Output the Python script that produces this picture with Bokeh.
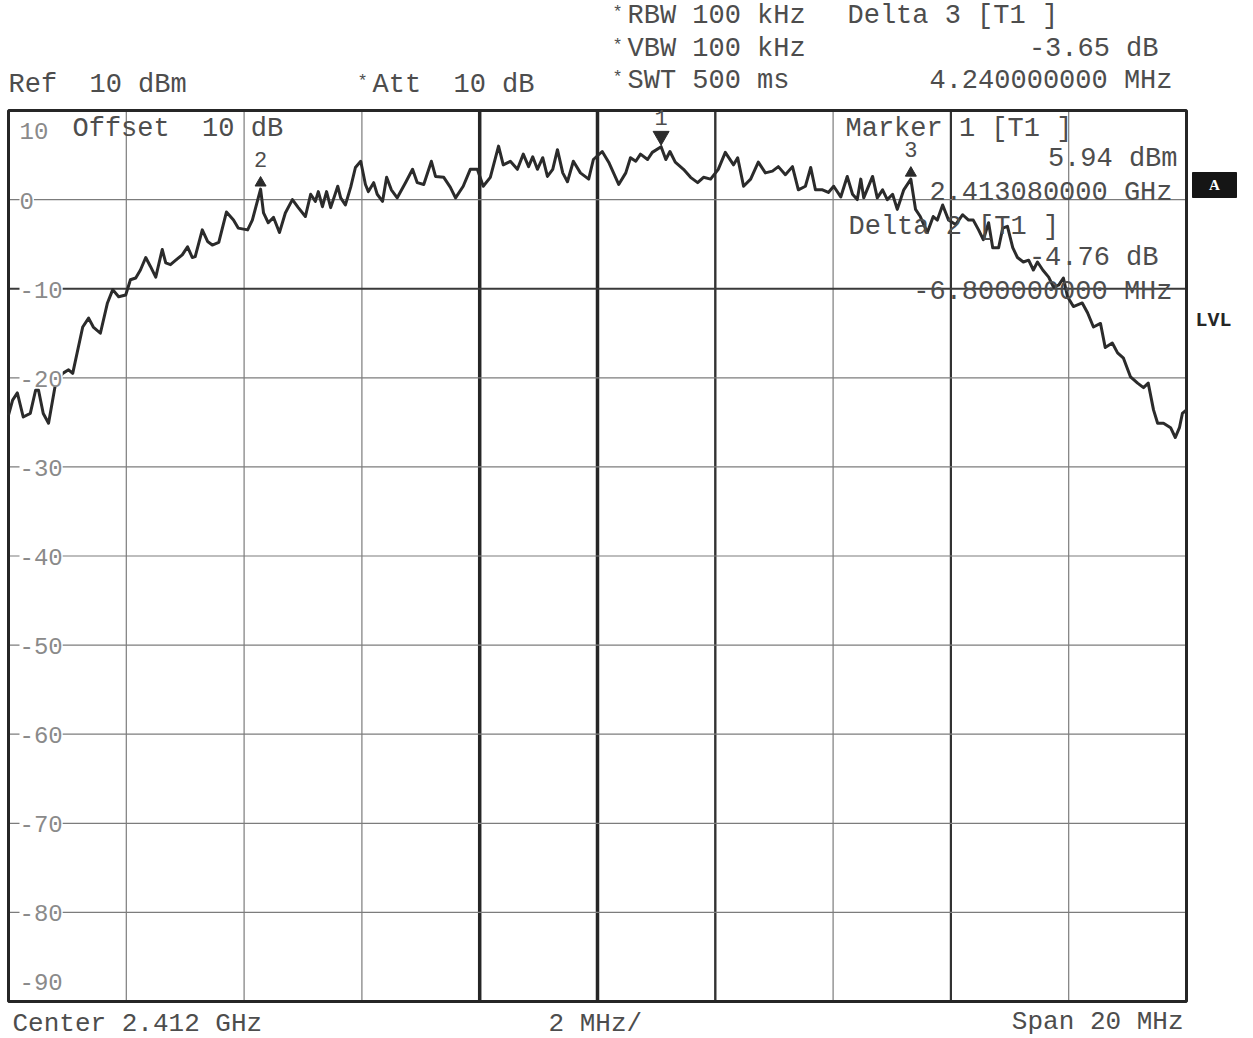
from bokeh.plotting import figure
from bokeh.models import Label, Range1d
from bokeh.embed import file_html
from bokeh.resources import INLINE

# ---------------- data ----------------
freq_mhz = [2402.00, 2402.07, 2402.15, 2402.25, 2402.37, 2402.46, 2402.51, 2402.59, 2402.68, 2402.80,
            2402.92, 2403.02, 2403.09, 2403.26, 2403.36, 2403.44, 2403.56, 2403.68, 2403.77, 2403.87,
            2403.99, 2404.07, 2404.16, 2404.24, 2404.33, 2404.41, 2404.50, 2404.61, 2404.67, 2404.75,
            2404.84, 2404.95, 2405.04, 2405.12, 2405.17, 2405.29, 2405.38, 2405.46, 2405.57, 2405.70,
            2405.82, 2405.90, 2406.06, 2406.14, 2406.28, 2406.33, 2406.41, 2406.50, 2406.60, 2406.70,
            2406.82, 2406.92, 2407.04, 2407.13, 2407.21, 2407.26, 2407.33, 2407.40, 2407.47, 2407.59,
            2407.64, 2407.72, 2407.81, 2407.89, 2407.98, 2408.06, 2408.11, 2408.20, 2408.26, 2408.35,
            2408.42, 2408.50, 2408.60, 2408.74, 2408.86, 2408.94, 2409.05, 2409.18, 2409.25, 2409.39,
            2409.50, 2409.59, 2409.72, 2409.84, 2409.96, 2410.06, 2410.18, 2410.32, 2410.40, 2410.52,
            2410.64, 2410.74, 2410.83, 2410.90, 2410.98, 2411.07, 2411.15, 2411.24, 2411.32, 2411.41,
            2411.49, 2411.59, 2411.71, 2411.85, 2411.93, 2412.08, 2412.19, 2412.36, 2412.48, 2412.56,
            2412.65, 2412.73, 2412.85, 2412.93, 2413.08, 2413.16, 2413.23, 2413.32, 2413.46, 2413.58,
            2413.70, 2413.80, 2413.92, 2414.05, 2414.17, 2414.22, 2414.31, 2414.38, 2414.48, 2414.60,
            2414.73, 2414.85, 2414.97, 2415.07, 2415.19, 2415.31, 2415.41, 2415.53, 2415.62, 2415.70,
            2415.82, 2415.92, 2416.01, 2416.13, 2416.24, 2416.33, 2416.41, 2416.47, 2416.52, 2416.67,
            2416.75, 2416.84, 2416.92, 2417.01, 2417.09, 2417.20, 2417.32, 2417.40, 2417.48, 2417.60,
            2417.70, 2417.77, 2417.86, 2417.96, 2418.08, 2418.20, 2418.30, 2418.38, 2418.47, 2418.55,
            2418.64, 2418.71, 2418.81, 2418.88, 2418.96, 2419.05, 2419.13, 2419.23, 2419.32, 2419.40,
            2419.47, 2419.56, 2419.66, 2419.74, 2419.83, 2419.91, 2419.98, 2420.08, 2420.23, 2420.32,
            2420.42, 2420.54, 2420.62, 2420.74, 2420.83, 2420.93, 2421.05, 2421.17, 2421.27, 2421.35,
            2421.44, 2421.51, 2421.61, 2421.73, 2421.81, 2421.88, 2421.93, 2422.00]
level_dbm = [-24.2, -22.5, -21.7, -24.4, -24.0, -21.4, -21.4, -24.0, -25.1, -20.6,
             -19.5, -19.1, -19.5, -14.3, -13.3, -14.3, -15.0, -11.6, -10.1, -10.9,
             -10.7, -9.0, -8.8, -7.9, -6.5, -7.5, -8.7, -5.6, -7.1, -7.3,
             -6.8, -6.2, -5.3, -6.5, -6.4, -3.4, -4.7, -5.1, -4.8, -1.4,
             -2.3, -3.2, -3.4, -2.3, 1.18, -1.5, -2.6, -2.0, -3.7, -1.5,
             0.0, -0.9, -1.9, 0.6, -0.2, 0.9, -0.8, 0.9, -0.9, 1.5,
             0.2, -0.6, 1.4, 3.6, 4.3, 1.7, 0.9, 1.9, 0.6, -0.2,
             2.5, 1.1, 0.2, 1.9, 3.4, 1.9, 1.7, 4.3, 2.6, 2.5,
             1.4, 0.2, 1.5, 3.4, 3.4, 1.5, 2.5, 6.0, 3.9, 4.3,
             3.4, 5.1, 3.7, 4.8, 3.4, 4.7, 2.6, 3.4, 5.6, 3.0,
             2.0, 4.3, 3.0, 2.3, 4.5, 5.4, 4.2, 1.7, 3.0, 4.7,
             4.3, 5.1, 4.5, 5.3, 5.94, 4.5, 5.4, 4.2, 3.4, 2.5,
             1.9, 2.5, 2.3, 3.4, 5.3, 4.8, 3.9, 4.7, 1.5, 2.3,
             4.2, 3.0, 3.2, 3.7, 2.8, 3.7, 1.1, 1.5, 3.6, 1.1,
             1.1, 0.8, 1.5, 0.3, 2.6, 0.6, 0.0, 2.3, 0.2, 2.6,
             0.2, 1.1, 0.0, 0.6, -1.1, 1.1, 2.29, -1.1, -1.9, -3.7,
             -1.9, -2.3, -0.6, -2.3, -2.8, -1.7, -2.3, -2.3, -3.4, -4.5,
             -2.6, -5.4, -5.4, -3.2, -3.0, -5.4, -6.5, -7.0, -6.8, -7.9,
             -7.0, -7.9, -8.7, -9.8, -9.6, -8.8, -10.9, -12.0, -11.6, -12.7,
             -14.3, -13.9, -16.6, -16.1, -17.2, -17.8, -19.9, -20.6, -21.1, -20.6,
             -23.6, -25.1, -25.1, -25.6, -26.7, -25.6, -24.0, -23.6]

grid_freq = [2402, 2404, 2406, 2408, 2410, 2412, 2414, 2416, 2418, 2420, 2422]
grid_db = [10, 0, -10, -20, -30, -40, -50, -60, -70, -80, -90]
ytick_labels = ["10", "0", "-10", "-20", "-30", "-40", "-50", "-60", "-70", "-80", "-90"]

marker_names = ["1", "2", "3"]
marker_freq = [2413.08, 2406.28, 2417.32]
marker_level = [5.94, 1.18, 2.29]

# ---------------- layout helpers (page px -> data) ----------------
F0, F1, D0, D1 = grid_freq[0], grid_freq[-1], grid_db[-1], grid_db[0]
FX0, FX1, FY0, FY1 = 8.0, 1186.0, 110.0, 1001.0
W, H = 1250, 1038
SP = "\u00a0"


def fx(px):
    return F0 + (px - FX0) * (F1 - F0) / (FX1 - FX0)


def fy(py):
    return D1 - (py - FY0) * (D1 - D0) / (FY1 - FY0)


p = figure(width=W, height=H, x_range=Range1d(fx(0), fx(W)), y_range=Range1d(fy(H), fy(0)),
           output_backend="svg", toolbar_location=None,
           x_axis_location=None, y_axis_location=None,
           min_border_left=0, min_border_right=0, min_border_top=0, min_border_bottom=0)
p.grid.visible = False
p.background_fill_color = "white"
p.border_fill_color = "white"
p.outline_line_color = None

# grid
thick_v = {2410: ("#262626", 3.5), 2412: ("#262626", 3.5), 2414: ("#333333", 2.4), 2418: ("#333333", 2.2)}
thick_h = {-10: ("#3a3a3a", 2.0)}
vf = grid_freq[1:-1]
p.segment(x0=vf, y0=[D0] * len(vf), x1=vf, y1=[D1] * len(vf),
          line_color=[thick_v.get(f, ("#7c7c7c", 1.2))[0] for f in vf],
          line_width=[thick_v.get(f, ("#7c7c7c", 1.2))[1] for f in vf])
hd = grid_db[1:-1]
p.segment(x0=[F0] * len(hd), y0=hd, x1=[F1] * len(hd), y1=hd,
          line_color=[thick_h.get(d, ("#7c7c7c", 1.2))[0] for d in hd],
          line_width=[thick_h.get(d, ("#7c7c7c", 1.2))[1] for d in hd])

# frame box
p.quad(left=[F0], right=[F1], bottom=[D0], top=[D1], fill_color=None,
       line_color="#262626", line_width=3)

# trace
p.line(freq_mhz, level_dbm, line_color="#2b2b2b", line_width=3, line_join="round")

# markers
p.scatter([marker_freq[0]], [marker_level[0] + 1.2], marker="inverted_triangle", size=16,
          fill_color="#2b2b2b", line_color="#2b2b2b")
p.scatter(marker_freq[1:], [v + 0.7 for v in marker_level[1:]], marker="triangle", size=11,
          fill_color="#2b2b2b", line_color="#2b2b2b")

FONT = "Liberation Mono"
TXT = "#4d4d4d"


def lab(text, px, py, align="left", size=27, color=TXT, style="normal", bg=None, font=FONT):
    kw = {}
    if bg is not None:
        kw["background_fill_color"] = bg
    p.add_layout(Label(x=fx(px), y=fy(py), text=text, text_align=align, text_baseline="middle",
                       text_font=font, text_font_size=f"{size}px", text_color=color,
                       text_font_style=style, **kw))


# y tick labels inside the frame
tick_py = [130, 200, 289, 378, 467, 556, 645, 734, 823, 912, 981]
for t, py in zip(ytick_labels, tick_py):
    lab(t, 19, py, size=24, color="#8a8a8a", bg="white")

# marker numbers
for name, f, v in zip(marker_names, marker_freq, marker_level):
    p.add_layout(Label(x=f, y=v + 3.3, text=name, text_align="center", text_baseline="middle",
                       text_font=FONT, text_font_size="22px", text_color=TXT))

# header
for star_x, txt_x, py, txt in [(612, 627, 15, "RBW 100 kHz"), (612, 627, 48, "VBW 100 kHz"),
                               (612, 627, 80, "SWT 500 ms"), (357, 372, 84, f"Att{SP}{SP}10 dB")]:
    lab("*", star_x, py - 3, size=17)
    lab(txt, txt_x, py)
lab(f"Ref{SP}{SP}10 dBm", 8, 84)
lab("Delta 3 [T1 ]", 847, 15)
lab("-3.65 dB", 1158, 48, align="right")
lab("4.240000000 MHz", 1172, 80, align="right")

# in-frame annotations
lab(f"Offset{SP}{SP}10 dB", 72, 128)
lab("Marker 1 [T1 ]", 845, 128)
lab("5.94 dBm", 1177, 158, align="right")
lab("2.413080000 GHz", 1172, 192, align="right")
lab("Delta 2 [T1 ]", 848, 226)
lab("-4.76 dB", 1158, 257, align="right")
lab("-6.800000000 MHz", 1172, 291, align="right")

# footer
lab("Center 2.412 GHz", 12, 1023, size=26)
lab("2 MHz/", 548, 1023, size=26)
lab("Span 20 MHz", 1183, 1021, size=26, align="right")

# right side: "A" box and LVL
p.quad(left=[fx(1192)], right=[fx(1236)], bottom=[fy(197)], top=[fy(172)],
       fill_color="#151515", line_color="#151515")
lab("A", 1214, 184, align="center", size=15, color="white", style="bold", font="Liberation Serif")
lab("LVL", 1195, 320, size=20, color="#262626", style="bold")

open("out.html", "w").write(file_html(p, INLINE))
